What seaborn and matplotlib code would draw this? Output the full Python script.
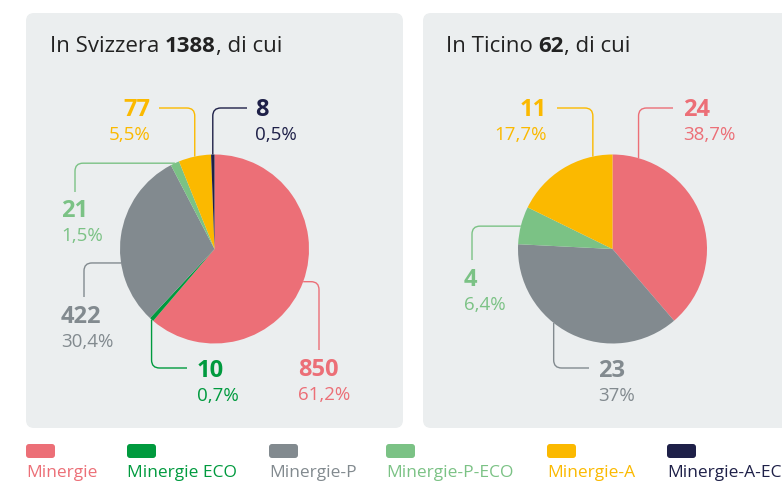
import numpy as np
import matplotlib
matplotlib.use("Agg")
import matplotlib.pyplot as plt
import seaborn as sns
from matplotlib.patches import FancyBboxPatch
from matplotlib.path import Path
from matplotlib.patches import PathPatch

# ---------------- data ----------------
categories = ["Minergie", "Minergie ECO", "Minergie-P", "Minergie-P-ECO", "Minergie-A", "Minergie-A-ECO"]
colors_hex = ["#EC6F77", "#009A3E", "#828A8F", "#7BC285", "#FBB900", "#1E2048"]
svizzera_values = [850, 10, 422, 21, 77, 8]
svizzera_pct = ["61,2%", "0,7%", "30,4%", "1,5%", "5,5%", "0,5%"]
svizzera_total = "1388"
ticino_values = [24, 0, 23, 4, 11, 0]
ticino_pct = ["38,7%", "", "37%", "6,4%", "17,7%", ""]
ticino_total = "62"
titles = [("In Svizzera ", svizzera_total, ", di cui"), ("In Ticino ", ticino_total, ", di cui")]

# ---------------- style ----------------
sns.set_theme(style="white")
plt.rcParams['font.family'] = ['Open Sans', 'DejaVu Sans']
palette = sns.color_palette(colors_hex)

W, H = 782, 482
fig = plt.figure(figsize=(W / 100, H / 100), dpi=100)
ax = fig.add_axes([0, 0, 1, 1])

def Y(y):
    return H - y

PANEL_BG = "#EBEEEF"
# panels
for (x0, x1) in [(26, 403), (423, 810)]:
    p = FancyBboxPatch((x0 + 8, Y(428) + 8), (x1 - x0) - 16, (428 - 13) - 16,
                       boxstyle="round,pad=8", fc=PANEL_BG, ec="none", zorder=0)
    ax.add_patch(p)

# layout of labels
# kind 'v': vertical from pie then horizontal to end(x, y)
# kind 'h': horizontal from pie to corner x, then vertical down to end y
layout_ch = [
    dict(ang=None, kind='h', cx=319, ey=350, tx=298, ty=376, ha='left'),
    dict(ang=None, kind='v', ex=187, ey=368, tx=197, ty=377, ha='left'),
    dict(ang=188.5, kind='h', cx=84, ey=297, tx=61, ty=323, ha='left'),
    dict(ang=None, kind='h', cx=75, ey=192, tx=61, ty=217, ha='left'),
    dict(ang=None, kind='v', ex=159, ey=108, tx=150, ty=116, ha='right'),
    dict(ang=None, kind='v', ex=247, ey=108, tx=255, ty=116, ha='left'),
]
layout_ti = [
    dict(ang=74, kind='v', ex=673, ey=108, tx=683, ty=116, ha='left'),
    None,
    dict(ang=231.5, kind='v', ex=589, ey=368, tx=598, ty=377, ha='left'),
    dict(ang=166, kind='h', cx=472, ey=260, tx=464, ty=286, ha='left'),
    dict(ang=102, kind='v', ex=557, ey=108, tx=547, ty=116, ha='right'),
    None,
]

panels = [
    dict(values=svizzera_values, pct=svizzera_pct, center=(214.5, 249), r=94.5, layout=layout_ch, title_x=50),
    dict(values=ticino_values, pct=ticino_pct, center=(612.5, 249), r=94.5, layout=layout_ti, title_x=446),
]

RAD = 8
for pi, pn in enumerate(panels):
    cx0, cy0 = pn["center"]
    wedges, _ = ax.pie(pn["values"], colors=palette, startangle=90, counterclock=False,
                       center=(cx0, Y(cy0)), radius=pn["r"],
                       wedgeprops=dict(linewidth=0), frame=True)
    for i, w in enumerate(wedges):
        lay = pn["layout"][i]
        if lay is None or pn["values"][i] == 0:
            continue
        col = palette[i]
        ang = lay["ang"] if lay["ang"] is not None else (w.theta1 + w.theta2) / 2
        a = np.deg2rad(ang)
        axp = cx0 + pn["r"] * np.cos(a)
        ayp = cy0 - pn["r"] * np.sin(a)
        if lay["kind"] == 'v':
            ex, ey = lay["ex"], lay["ey"]
            sy = np.sign(ey - ayp)
            sx = np.sign(ex - axp)
            verts = [(axp, ayp), (axp, ey - sy * RAD), (axp, ey), (axp + sx * RAD, ey), (ex, ey)]
        else:
            cxp, ey = lay["cx"], lay["ey"]
            sx = np.sign(cxp - axp)
            sy = np.sign(ey - ayp)
            verts = [(axp, ayp), (cxp - sx * RAD, ayp), (cxp, ayp), (cxp, ayp + sy * RAD), (cxp, ey)]
        codes = [Path.MOVETO, Path.LINETO, Path.CURVE3, Path.CURVE3, Path.LINETO]
        verts = [(vx, Y(vy)) for vx, vy in verts]
        ax.add_patch(PathPatch(Path(verts, codes), fc="none", ec=col, lw=1.0, zorder=3,
                               capstyle='butt'))
        ax.text(lay["tx"], Y(lay["ty"]), str(pn["values"][i]), color=col, fontsize=17,
                fontweight='bold', ha=lay["ha"], va='baseline', zorder=4)
        ax.text(lay["tx"], Y(lay["ty"] + 24), pn["pct"][i], color=col, fontsize=13.5,
                ha=lay["ha"], va='baseline', zorder=4)

ax.set_xlim(0, W)
ax.set_ylim(0, H)
ax.set_aspect('auto')
ax.axis('off')

# titles with bold number
renderer = fig.canvas.get_renderer()
for pi, pn in enumerate(panels):
    x = pn["title_x"]
    for j, part in enumerate(titles[pi]):
        t = ax.text(x, Y(52), part, fontsize=16, color="#222222",
                    fontweight='bold' if j == 1 else 'normal', ha='left', va='baseline')
        bb = t.get_window_extent(renderer=renderer)
        x = x + bb.width * (W / fig.bbox.width)

# legend
legend_x = [26, 127, 269, 386, 547, 667]
for i, name in enumerate(categories):
    lx = legend_x[i]
    sq = FancyBboxPatch((lx + 3, Y(458) + 3), 29 - 6, 14 - 6, boxstyle="round,pad=3",
                        fc=palette[i], ec="none", zorder=2)
    ax.add_patch(sq)
    ax.text(lx, Y(477), name, color=palette[i], fontsize=12.5, ha='left', va='baseline')

fig.savefig("out.png", dpi=100, facecolor="white")
